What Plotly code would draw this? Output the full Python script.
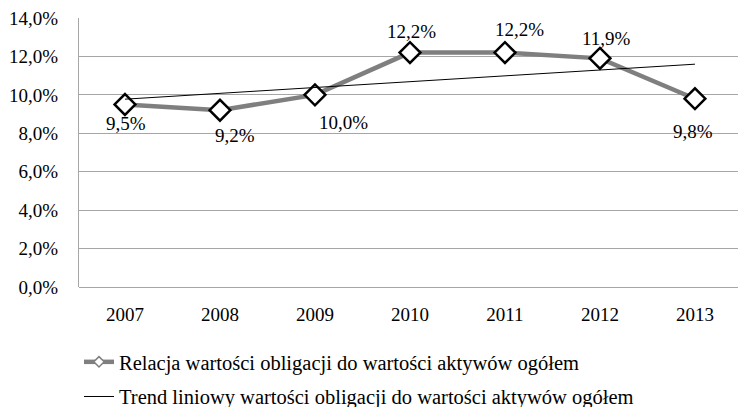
import numpy as np
import plotly.graph_objects as go

years = ["2007", "2008", "2009", "2010", "2011", "2012", "2013"]
ratio = [9.5, 9.2, 10.0, 12.2, 12.2, 11.9, 9.8]
y_ticks = [0, 2, 4, 6, 8, 10, 12, 14]
series_name = "Relacja wartości obligacji do wartości aktywów ogółem"
trend_name = "Trend liniowy wartości obligacji do wartości aktywów ogółem"

# linear trend fitted to the series
idx = np.arange(len(ratio))
slope, intercept = np.polyfit(idx, ratio, 1)
trend = list(slope * idx + intercept)

FONT = "Liberation Serif, Times New Roman, serif"
PCT = "&#37;"


def fmt(v):
    return f"{v:.1f}".replace(".", ",") + PCT


fig = go.Figure()
fig.add_trace(go.Scatter(
    x=years, y=ratio, mode="lines+markers", name=series_name,
    line=dict(color="#7f7f7f", width=4.5),
    marker=dict(symbol="diamond", size=16, color="white",
                line=dict(color="black", width=2.5)),
    showlegend=False,
))
fig.add_trace(go.Scatter(
    x=years, y=trend, mode="lines", name=trend_name,
    line=dict(color="black", width=1),
    showlegend=False,
))
# legend-only entries (smaller marker in the key)
fig.add_trace(go.Scatter(
    x=[None], y=[None], mode="lines+markers", name=series_name,
    line=dict(color="#7f7f7f", width=4.5),
    marker=dict(symbol="diamond", size=8, color="white",
                line=dict(color="#7f7f7f", width=1.5)),
    legendgroup="a",
))
fig.add_trace(go.Scatter(
    x=[None], y=[None], mode="lines", name=trend_name,
    line=dict(color="black", width=1),
    legendgroup="b",
))

# label offsets (px) relative to each marker
offsets = [(1, -19), (15, -25), (29, -28), (2, 21), (15, 23), (7, 20), (-2, -33)]
annotations = []
for i, (v, (dx, dy)) in enumerate(zip(ratio, offsets)):
    annotations.append(dict(x=i, y=v, xref="x", yref="y",
                            text=fmt(v), showarrow=False,
                            xshift=dx, yshift=dy,
                            font=dict(family=FONT, size=19, color="black")))

fig.update_layout(
    width=738, height=425,
    margin=dict(l=79, r=0, t=18, b=138),
    paper_bgcolor="white", plot_bgcolor="white",
    font=dict(family=FONT, size=19, color="black"),
    showlegend=True,
    annotations=annotations,
    legend=dict(orientation="v", x=0.0, xanchor="left",
                y=-0.2045, yanchor="top",
                xref="paper", yref="paper",
                font=dict(family=FONT, size=20.5, color="black"),
                traceorder="grouped", tracegroupgap=5,
                bgcolor="rgba(0,0,0,0)"),
)
fig.update_xaxes(
    type="category", range=[-0.484, 6.453], showgrid=False,
    showline=False, ticks="", ticklabelstandoff=14,
    tickfont=dict(family=FONT, size=19, color="black"),
)
fig.update_yaxes(
    range=[0, 14], tickvals=y_ticks, ticktext=[fmt(t) for t in y_ticks],
    showgrid=True, gridcolor="#a6a6a6", gridwidth=1,
    showline=True, linecolor="#a6a6a6", linewidth=1,
    zeroline=True, zerolinecolor="#a6a6a6", zerolinewidth=1,
    ticks="", ticklabelstandoff=16,
    tickfont=dict(family=FONT, size=19, color="black"),
)

fig.write_html("out.html", config={"displayModeBar": False},
               post_script="document.body.style.margin='0';")
